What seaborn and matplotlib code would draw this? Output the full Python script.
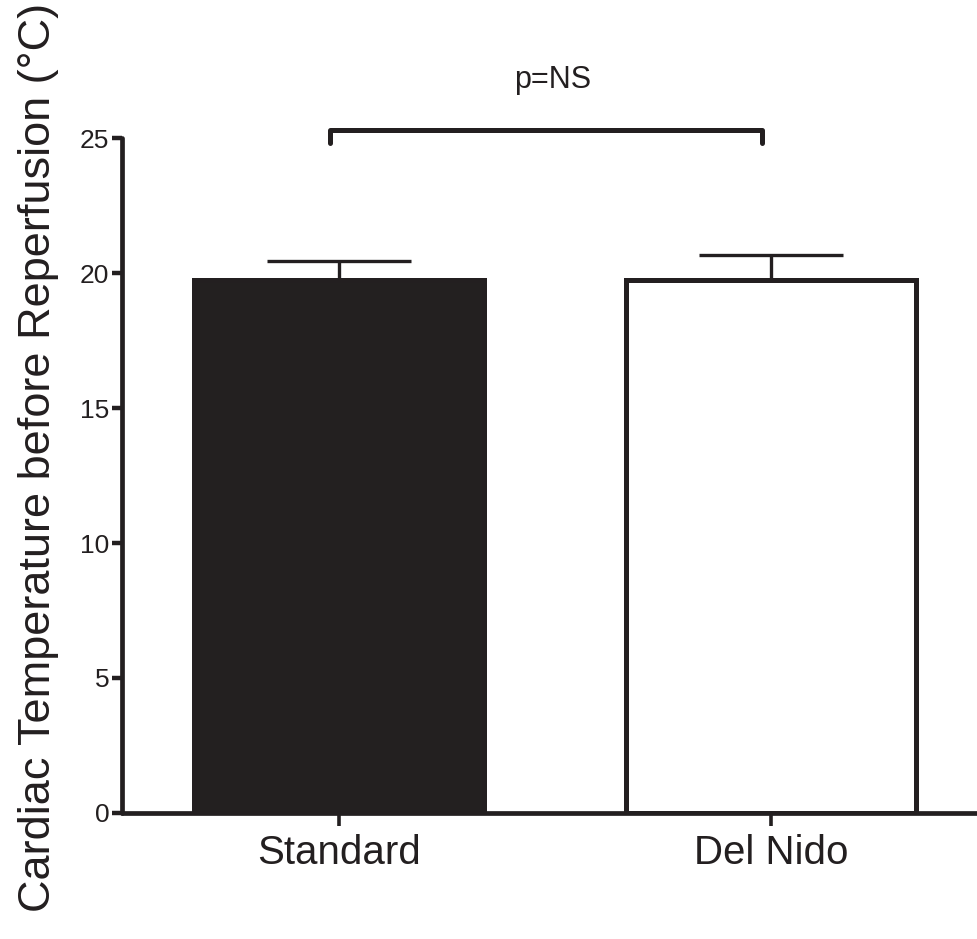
import matplotlib
matplotlib.use("Agg")
import matplotlib.pyplot as plt
import seaborn as sns
import pandas as pd
import numpy as np

groups = ["Standard", "Del Nido"]
means = [19.74, 19.74]
sems = [0.70, 0.93]
fills = ["#231f20", "#ffffff"]
yticks = [0, 5, 10, 15, 20, 25]
ylabel = "Cardiac Temperature before Reperfusion (°C)"
annot = "p=NS"

INK = "#231f20"

sns.set_theme(style="white")
plt.rcParams["font.family"] = ["Liberation Sans", "DejaVu Sans"]

df = pd.DataFrame({"group": groups, "mean": means})

fig = plt.figure(figsize=(9.78, 9.39), dpi=100)
ax = fig.add_axes([0.1247, 0.1342, 0.8753, 0.7188])

sns.barplot(data=df, x="group", y="mean", hue="group", palette=fills,
            width=0.67, edgecolor=INK, linewidth=3.6, legend=False,
            errorbar=None, ax=ax, zorder=2)

xs = np.arange(len(groups))
ax.errorbar(xs, means, yerr=[np.zeros(len(sems)), sems], fmt="none",
            ecolor=INK, elinewidth=2.4, capsize=52, capthick=2.4, zorder=1)

ax.set_ylim(0, 25)
ax.set_xlim(-0.502, 1.479)
ax.set_yticks(yticks)
ax.set_yticklabels([str(t) for t in yticks], fontsize=19, color=INK)
ax.set_xticks(xs)
ax.set_xticklabels(groups, fontsize=29, color=INK)
ax.set_xlabel("")
ax.set_ylabel(ylabel, fontsize=32.5, color=INK)
ax.yaxis.set_label_coords(-0.0736, 0.527)

for s in ["top", "right"]:
    ax.spines[s].set_visible(False)
for s in ["left", "bottom"]:
    ax.spines[s].set_color(INK)
    ax.spines[s].set_linewidth(3.4)
    ax.spines[s].set_capstyle("round")
ax.tick_params(axis="y", direction="out", length=7, width=3.2, color=INK, pad=2, left=True)
ax.tick_params(axis="x", direction="out", length=9, width=2.6, color=INK, pad=6, bottom=True)

# significance bracket
bx = [-0.02, -0.02, 0.98, 0.98]
by = [24.8, 25.3, 25.3, 24.8]
ax.plot(bx, by, color=INK, lw=3.6, clip_on=False, solid_capstyle="round",
        solid_joinstyle="round")
ax.text(0.495, 27.15, annot, ha="center", va="center", fontsize=22, color=INK)

fig.savefig("out.png", dpi=100, facecolor="white")
